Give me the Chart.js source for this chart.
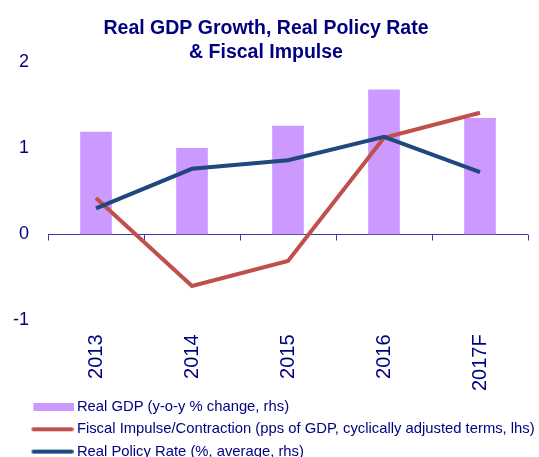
<!DOCTYPE html>
<html>
<head>
<meta charset="utf-8">
<script src="https://cdn.jsdelivr.net/npm/chart.js@4"></script>
<style>
  html, body { margin: 0; padding: 0; background: #fff; overflow: hidden; }
  #wrap { width: 539px; height: 469px; position: relative; }
</style>
</head>
<body>
<div id="wrap"><canvas id="gdpChart"></canvas></div>
<script>
let years = ['2013', '2014', '2015', '2016', '2017F'];
let realGdp = [1.19, 1.00, 1.26, 1.68, 1.35];
let fiscalImpulse = [0.42, -0.60, -0.31, 1.12, 1.41];
let policyRate = [0.30, 0.76, 0.86, 1.13, 0.72];
let yTicks = [-1, 0, 1, 2];

const navy = '#000080';
const font = "'Liberation Sans', Arial, sans-serif";
const gdpColor = '#CC99FF';
const fiscalColor = '#C0504D';
const rateColor = '#1F497D';

// legend markers: a wide block for the bars, a thick rounded stroke for the lines
function barSwatch(color) {
    const c = document.createElement('canvas');
    c.width = 52;
    c.height = 8;
    const g = c.getContext('2d');
    g.fillStyle = color;
    g.fillRect(12, 0, 40, 8);
    return c;
}

function lineSwatch(color) {
    const c = document.createElement('canvas');
    c.width = 52;
    c.height = 6;
    const g = c.getContext('2d');
    g.strokeStyle = color;
    g.lineWidth = 4;
    g.lineCap = 'round';
    g.beginPath();
    g.moveTo(12, 3);
    g.lineTo(50, 3);
    g.stroke();
    return c;
}

const markers = [barSwatch(gdpColor), lineSwatch(fiscalColor), lineSwatch(rateColor)];

// x axis drawn at zero with tick marks between the years
const zeroAxis = {
    id: 'zeroAxis',
    beforeDatasetsDraw(chart) {
        const { ctx, chartArea, scales: { x, y } } = chart;
        const y0 = Math.round(y.getPixelForValue(0)) + 0.5;
        ctx.save();
        ctx.strokeStyle = '#3a3aa0';
        ctx.lineWidth = 1;
        ctx.beginPath();
        ctx.moveTo(chartArea.left, y0);
        ctx.lineTo(chartArea.right, y0);
        for (let i = 0; i <= years.length; i++) {
            const bx = Math.round(x.getPixelForValue(i - 0.5)) + 0.5;
            ctx.moveTo(bx, y0);
            ctx.lineTo(bx, y0 + 6);
        }
        ctx.stroke();
        ctx.restore();
    }
};

// legend flush to the left edge, title centred a bit left of the canvas middle
const boxShift = {
    id: 'boxShift',
    afterUpdate(chart) {
        chart.legend.left = 18;
        chart.legend.right = 539;
        chart.titleBlock.left = 0;
        chart.titleBlock.right = 532;
    }
};

const data = {
    labels: years,
    datasets: [{
        type: 'bar',
        label: 'Real GDP (y-o-y % change, rhs)',
        data: realGdp,
        backgroundColor: gdpColor,
        barPercentage: 0.33,
        categoryPercentage: 1,
        order: 3
    }, {
        type: 'line',
        label: 'Fiscal Impulse/Contraction (pps of GDP, cyclically adjusted terms, lhs)',
        data: fiscalImpulse,
        borderColor: fiscalColor,
        borderWidth: 4,
        pointRadius: 0,
        tension: 0,
        order: 2
    }, {
        type: 'line',
        label: 'Real Policy Rate (%, average, rhs)',
        data: policyRate,
        borderColor: rateColor,
        borderWidth: 4,
        pointRadius: 0,
        tension: 0,
        order: 1
    }]
};

const options = {
    responsive: true,
    maintainAspectRatio: false,
    animation: false,
    layout: { padding: { left: 13, right: 11, top: 0, bottom: 0 } },
    plugins: {
        tooltip: { enabled: false },
        title: {
            display: true,
            text: ['Real GDP Growth, Real Policy Rate', '& Fiscal Impulse'],
            color: navy,
            font: { family: font, size: 19.5, weight: 'bold', lineHeight: 1.23 },
            padding: { top: 17, bottom: -3 }
        },
        legend: {
            position: 'bottom',
            align: 'start',
            labels: {
                color: navy,
                font: { family: font, size: 14.8 },
                boxWidth: 44,
                boxHeight: 8,
                pointStyleWidth: 44,
                padding: 7.5,
                usePointStyle: true,
                generateLabels(chart) {
                    return chart.data.datasets.map((ds, i) => ({
                        text: ds.label,
                        pointStyle: markers[i],
                        fontColor: navy,
                        datasetIndex: i,
                        lineWidth: 0
                    }));
                }
            }
        }
    },
    scales: {
        x: {
            grid: { display: false, drawTicks: false },
            border: { display: false },
            offset: true,
            ticks: {
                color: navy,
                font: { family: font, size: 20 },
                minRotation: 90,
                maxRotation: 90,
                padding: 14
            },
            afterFit(scale) {
                // tick padding is counted on both sides of the labels; keep one
                scale.paddingLeft = 0;
                scale.paddingRight = 0;
                scale.height -= 13;
            }
        },
        y: {
            min: yTicks[0],
            max: yTicks[yTicks.length - 1],
            grid: { display: false, drawTicks: false },
            border: { display: false },
            ticks: {
                stepSize: 1,
                color: navy,
                font: { family: font, size: 18 },
                padding: 19
            },
            afterFit(scale) {
                scale.width -= 19;
            }
        }
    }
};

new Chart(document.getElementById('gdpChart'), {
    data: data,
    options: options,
    plugins: [zeroAxis, boxShift]
});
</script>
</body>
</html>
